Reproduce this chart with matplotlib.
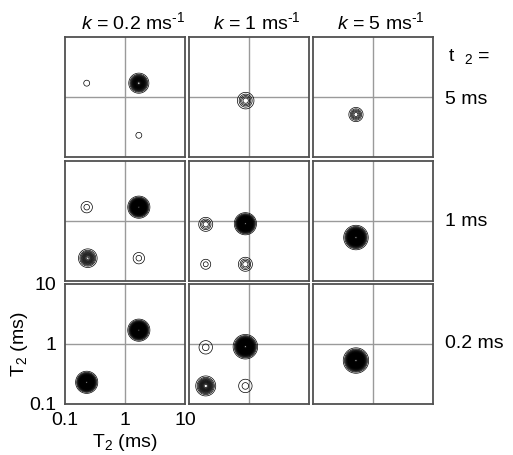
"""
T2-T2 exchange maps for three exchange rates k and three mixing times t2.
"""

import matplotlib
matplotlib.use('Agg')
import matplotlib.pyplot as plt
import numpy as np

plt.rcParams['font.family'] = ['Liberation Sans', 'DejaVu Sans']
plt.rcParams['mathtext.fontset'] = 'custom'
plt.rcParams['mathtext.rm'] = 'Liberation Sans'
plt.rcParams['mathtext.it'] = 'Liberation Sans:italic'

K_LABELS = ['0.2', '1', '5']
MIX_LABELS = ['5 ms', '1 ms', '0.2 ms']
TICKS = [0.1, 1, 10]
TICK_LABELS = ['0.1', '1', '10']

# One entry per peak: panel row (mixing time), panel column (k),
# position (T2, T2) in ms, amplitude and width (decades).
peak_row = [0, 0, 0, 0, 0,
            1, 1, 1, 1, 1, 1, 1, 1, 1,
            2, 2, 2, 2, 2, 2, 2]
peak_col = [0, 0, 0, 1, 2,
            0, 0, 0, 0, 1, 1, 1, 1, 2,
            0, 0, 1, 1, 1, 1, 2]
peak_t2x = [0.23, 1.7, 1.7, 0.88, 0.52,
            0.23, 1.7, 0.24, 1.7, 0.19, 0.87, 0.19, 0.87, 0.52,
            0.23, 1.7, 0.19, 0.87, 0.19, 0.87, 0.52]
peak_t2y = [1.7, 1.7, 0.23, 0.87, 0.51,
            1.7, 1.7, 0.24, 0.24, 0.88, 0.9, 0.19, 0.19, 0.53,
            0.23, 1.7, 0.88, 0.9, 0.2, 0.2, 0.53]
peak_amp = [0.03, 0.5, 0.03, 0.12, 0.14,
            0.05, 1.0, 0.25, 0.05, 0.1, 1.0, 0.05, 0.1, 1.0,
            1.0, 1.0, 0.05, 1.0, 0.3, 0.05, 1.0]
peak_width = [0.055, 0.066, 0.055, 0.073, 0.060,
              0.070, 0.066, 0.069, 0.070, 0.065, 0.066, 0.0615, 0.065, 0.073,
              0.066, 0.066, 0.0825, 0.073, 0.0716, 0.0825, 0.0757]

LEVELS = np.arange(0.02, 1.0, 0.02)


def main():

    W, H = 513, 455
    fig = plt.figure(figsize=(W / 100, H / 100), dpi=100)

    lefts = [65, 189, 313]
    tops = [37, 161, 284]
    size = 120

    g = np.linspace(-1, 1, 400)
    lx, ly = np.meshgrid(g, g)

    for r in range(3):
        for c in range(3):
            ax = fig.add_axes([lefts[c] / W, 1 - (tops[r] + size) / H,
                               size / W, size / H])
            z = np.zeros_like(lx)
            for i in range(len(peak_row)):
                if peak_row[i] == r and peak_col[i] == c:
                    d2 = ((lx - np.log10(peak_t2x[i])) ** 2 +
                          (ly - np.log10(peak_t2y[i])) ** 2)
                    z += peak_amp[i] * np.exp(-d2 / (2 * peak_width[i] ** 2))
            ax.contour(10 ** lx, 10 ** ly, z, levels=LEVELS,
                       colors='black', linewidths=0.5)
            ax.set_xscale('log')
            ax.set_yscale('log')
            ax.set_xlim(0.1, 10)
            ax.set_ylim(0.1, 10)
            ax.axvline(1, color='#9a9a9a', lw=1.0, zorder=0)
            ax.axhline(1, color='#9a9a9a', lw=1.0, zorder=0)
            for s in ax.spines.values():
                s.set_color('#505050')
                s.set_linewidth(1.3)
            ax.minorticks_off()
            ax.tick_params(length=0, labelsize=14, pad=6)
            if r == 2 and c == 0:
                ax.set_xticks(TICKS)
                ax.set_xticklabels(TICK_LABELS)
                ax.set_yticks(TICKS)
                ax.set_yticklabels(TICK_LABELS)
                ax.set_xlabel('T$_2$ (ms)', fontsize=14, labelpad=2)
                ax.set_ylabel('T$_2$ (ms)', fontsize=14, labelpad=0)
            else:
                ax.set_xticks([])
                ax.set_yticks([])

    for c in range(3):
        fig.text((lefts[c] + size / 2 + 8) / W, 1 - 22 / H,
                 '$k$ = ' + K_LABELS[c] + r' ms$^{\mathrm{\text{-}1}}$',
                 ha='center', va='center', fontsize=14)

    fig.text(469 / W, 1 - 57 / H, 't  $_2$ =', ha='center', va='center',
             fontsize=14)
    for r in range(3):
        y = tops[r] + size / 2 + (3 if r == 0 else 0)
        fig.text(445 / W, 1 - y / H, MIX_LABELS[r], ha='left', va='center',
                 fontsize=14)

    fig.savefig('out.png', dpi=100)


if __name__ == '__main__':
    main()
